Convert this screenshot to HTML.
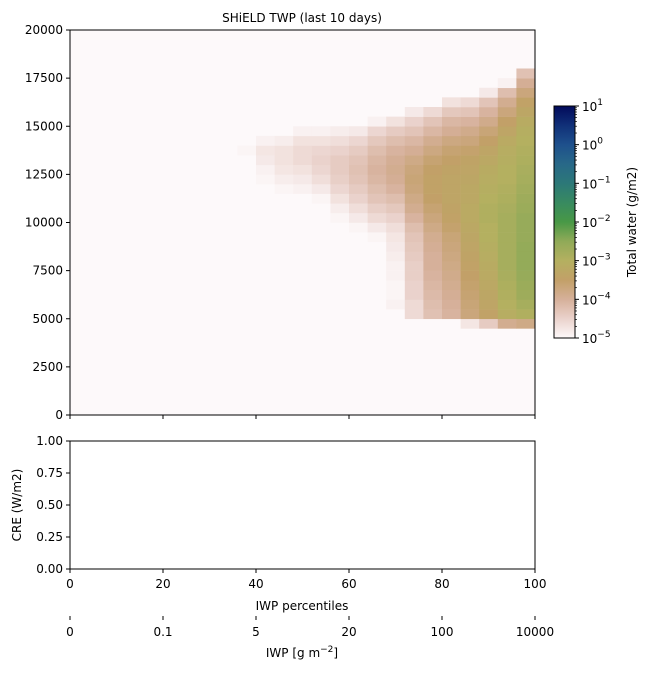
<!DOCTYPE html>
<html><head><meta charset="utf-8"><style>
body{margin:0;background:#fff;font-family:"Liberation Sans","DejaVu Sans",sans-serif;}
svg text{font-family:"DejaVu Sans","Liberation Sans",sans-serif;font-size:12px;fill:#000;}
</style></head><body>
<svg id="fig" width="649" height="675" xmlns="http://www.w3.org/2000/svg"></svg>
<script>
// heatmap data: columns are 4-percentile bins, rows are 500 m bins
const colStart = [9,10,11,12,13,14,15,16,17,18,19,20,21,22,23,24];
const rowBottom = [26,24,23,23,22,20,19,18,11,10,10,10,9,9,9,9];
// log10 total water per row from bottom row upwards
const colValues = [
 [-5,-4.95],
 [-4.95,-4.9,-4.8,-4.75,-4.9],
 [-4.95,-4.85,-4.75,-4.7,-4.7,-4.85],
 [-4.9,-4.8,-4.7,-4.6,-4.6,-4.7,-4.9],
 [-4.95,-4.8,-4.65,-4.55,-4.5,-4.55,-4.7,-4.9],
 [-4.95,-4.85,-4.7,-4.55,-4.45,-4.4,-4.4,-4.5,-4.65,-4.85],
 [-4.95,-4.8,-4.65,-4.5,-4.4,-4.3,-4.25,-4.3,-4.4,-4.55,-4.8],
 [-4.95,-4.8,-4.6,-4.45,-4.3,-4.2,-4.1,-4.05,-4.1,-4.2,-4.35,-4.55,-4.9],
 [-4.9,-4.95,-4.95,-4.9,-4.9,-4.85,-4.8,-4.75,-4.65,-4.5,-4.35,-4.2,-4.05,-3.95,-3.9,-3.95,-4.05,-4.2,-4.4,-4.7],
 [-4.6,-4.6,-4.5,-4.5,-4.45,-4.45,-4.4,-4.35,-4.3,-4.2,-4.05,-3.9,-3.8,-3.7,-3.65,-3.7,-3.8,-3.95,-4.1,-4.3,-4.5,-4.8],
 [-4.25,-4.2,-4.15,-4.1,-4.05,-4.0,-4.0,-3.95,-3.9,-3.8,-3.7,-3.6,-3.5,-3.45,-3.45,-3.5,-3.6,-3.75,-3.9,-4.1,-4.3,-4.6],
 [-4.05,-4.0,-3.95,-3.9,-3.85,-3.8,-3.75,-3.7,-3.65,-3.55,-3.45,-3.4,-3.35,-3.35,-3.35,-3.4,-3.5,-3.6,-3.75,-3.95,-4.1,-4.35,-4.7],
 [-4.75,-3.7,-3.65,-3.6,-3.55,-3.5,-3.45,-3.4,-3.35,-3.3,-3.25,-3.2,-3.2,-3.25,-3.25,-3.3,-3.35,-3.4,-3.55,-3.7,-3.85,-4.05,-4.3,-4.6],
 [-4.4,-3.45,-3.35,-3.3,-3.25,-3.2,-3.15,-3.1,-3.05,-3.0,-3.0,-2.95,-2.95,-3.0,-3.05,-3.1,-3.15,-3.25,-3.35,-3.5,-3.65,-3.85,-4.05,-4.3,-4.8],
 [-3.9,-3.1,-3.0,-2.95,-2.9,-2.85,-2.8,-2.8,-2.8,-2.8,-2.8,-2.8,-2.85,-2.9,-2.95,-3.0,-3.0,-3.05,-3.1,-3.2,-3.35,-3.5,-3.7,-3.9,-4.2,-4.9],
 [-3.8,-2.95,-2.8,-2.7,-2.65,-2.6,-2.55,-2.55,-2.55,-2.6,-2.6,-2.6,-2.65,-2.7,-2.75,-2.8,-2.85,-2.9,-2.95,-3.0,-3.05,-3.15,-3.3,-3.45,-3.7,-3.95,-4.25]
];
const yTicks = [0,2500,5000,7500,10000,12500,15000,17500,20000];
const xTicks = [0,20,40,60,80,100];
const creTicks = ["0.00","0.25","0.50","0.75","1.00"];
const iwpLabels = ["0","0.1","5","20","100","10000"];
const cbExp = [-5,-4,-3,-2,-1,0,1];

const NS="http://www.w3.org/2000/svg";
const svg=document.getElementById('fig');
function el(t,a,txt){const e=document.createElementNS(NS,t);for(const k in a)e.setAttribute(k,a[k]);if(txt!==undefined)e.textContent=txt;svg.appendChild(e);return e;}
const L=70,R=535,T=30,B=415;
const xs=v=>L+(v/100)*(R-L);
const ys=v=>B-(v/20000)*(B-T);
const cmapStops=[[-5,[253,249,250]],[-4.5,[234,210,204]],[-4,[214,176,154]],[-3.5,[194,160,104]],[-3,[180,176,96]],[-2.5,[144,170,88]],[-2,[72,152,70]],[-1.5,[56,138,96]],[-1,[44,120,120]],[-0.5,[40,104,136]],[0,[30,80,140]],[0.5,[16,48,120]],[1,[2,10,90]]];
function cmap(v){v=Math.max(-5,Math.min(1,v));for(let i=0;i<cmapStops.length-1;i++){const a=cmapStops[i],b=cmapStops[i+1];if(v<=b[0]){const t=(v-a[0])/(b[0]-a[0]);const c=a[1].map((x,k)=>Math.round(x+(b[1][k]-x)*t));return `rgb(${c})`;}}return 'rgb(2,10,90)';}

let t=el('text',{x:302,y:22,'text-anchor':'middle','font-size':'13.5'},'SHiELD TWP (last 10 days)');

let bg=el('rect',{x:L,y:T,width:R-L,height:B-T,fill:cmap(-5)});

colStart.forEach((c,i)=>{colValues[i].forEach((v,j)=>{const r=rowBottom[i]+j;
 const x0=xs(c*4),x1=xs(c*4+4),y0=ys((r+1)*500),y1=ys(r*500);
 const e=el('rect',{x:x0,y:y0,width:x1-x0+0.3,height:y1-y0+0.3,fill:cmap(v)});
 
 });});
let fr=el('rect',{x:L,y:T,width:R-L,height:B-T,fill:'none',stroke:'#000','stroke-width':1});

yTicks.forEach(v=>{const y=ys(v);el('line',{x1:L-4,x2:L,y1:y,y2:y,stroke:'#000'});
 const e=el('text',{x:L-7,y:y+4,'text-anchor':'end'},String(v));
 });
xTicks.forEach(v=>{el('line',{x1:xs(v),x2:xs(v),y1:B,y2:B+4,stroke:'#000'});});

const T2=441,B2=569;
let f2=el('rect',{x:L,y:T2,width:R-L,height:B2-T2,fill:'#fff',stroke:'#000'});

creTicks.forEach((s,i)=>{const y=B2-i*(B2-T2)/4;el('line',{x1:L-4,x2:L,y1:y,y2:y,stroke:'#000'});
 const e=el('text',{x:L-7,y:y+4,'text-anchor':'end'},s);
 });
let yl=el('text',{x:21,y:505,'text-anchor':'middle',transform:'rotate(-90 21 505)'},'CRE (W/m2)');

xTicks.forEach(v=>{el('line',{x1:xs(v),x2:xs(v),y1:B2,y2:B2+4,stroke:'#000'});
 const e=el('text',{x:xs(v),y:B2+19,'text-anchor':'middle'},String(v));
 });
let xl=el('text',{x:302,y:610,'text-anchor':'middle'},'IWP percentiles');

iwpLabels.forEach((s,i)=>{const x=xs(xTicks[i]);el('line',{x1:x,x2:x,y1:616,y2:620,stroke:'#000'});
 const e=el('text',{x:x,y:636,'text-anchor':'middle'},s);
 });
let x2=el('text',{x:302,y:657,'text-anchor':'middle'});

x2.innerHTML='IWP [g m<tspan dy="-5" font-size="9">−2</tspan><tspan dy="5">]</tspan>';

const CL=554,CR=575,CT=106,CB=338;
const defs=el('defs',{});
const g=document.createElementNS(NS,'linearGradient');g.setAttribute('id','cb');g.setAttribute('x1','0');g.setAttribute('y1','1');g.setAttribute('x2','0');g.setAttribute('y2','0');defs.appendChild(g);
for(let k=0;k<=24;k++){const v=-5+k*0.25;const s=document.createElementNS(NS,'stop');s.setAttribute('offset',(k/24));s.setAttribute('stop-color',cmap(v));g.appendChild(s);}
let cb=el('rect',{x:CL,y:CT,width:CR-CL,height:CB-CT,fill:'url(#cb)',stroke:'#000'});

const cy=v=>CB-(v+5)/6*(CB-CT);
cbExp.forEach(p=>{const y=cy(p);el('line',{x1:CR,x2:CR+4,y1:y,y2:y,stroke:'#000'});
 const e=el('text',{x:CR+7,y:y+5});
 
 e.innerHTML='10<tspan dy="-6" font-size="9">'+(p<0?'−'+(-p):p)+'</tspan>';
 if(p<1)for(let m=2;m<10;m++){const yy=cy(p+Math.log10(m));el('line',{x1:CR,x2:CR+2,y1:yy,y2:yy,stroke:'#000','stroke-width':0.7});}});
let cl=el('text',{x:636,y:222,'text-anchor':'middle',transform:'rotate(-90 636 222)'},'Total water (g/m2)');

</script>
</body></html>
